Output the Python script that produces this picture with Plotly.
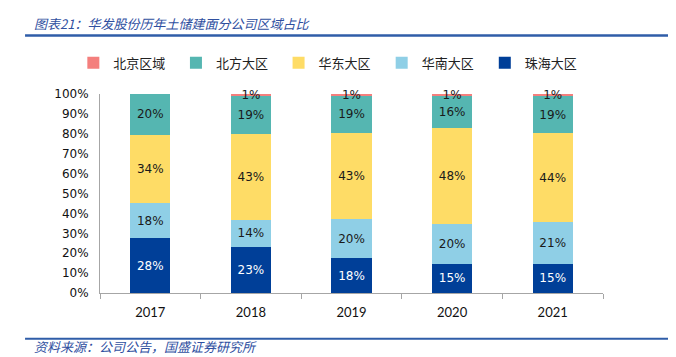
import plotly.graph_objects as go

years = ["2017", "2018", "2019", "2020", "2021"]
beijing = [0.0, 1.0, 1.0, 1.0, 1.0]
beifang = [20.4, 19.0, 18.6, 16.0, 18.8]
huadong = [34.4, 43.3, 43.3, 48.1, 44.4]
huanan = [17.6, 13.5, 19.6, 20.3, 21.2]
zhuhai = [27.6, 23.2, 17.5, 14.6, 14.6]

# (name, values, colour, label colour, legend id, legend x in paper coords)
series = [
    ("珠海大区", zhuhai, "#003F98", "white", "legend5", 0.765),
    ("华南大区", huanan, "#8FCFE6", "#1a1a1a", "legend4", 0.560),
    ("华东大区", huadong, "#FEDC66", "#1a1a1a", "legend3", 0.355),
    ("北方大区", beifang, "#55B6B1", "#1a1a1a", "legend2", 0.151),
    ("北京区域", beijing, "#F47F7D", "#1a1a1a", "legend", -0.053),
]

fig = go.Figure()
legend_layout = {}
for name, vals, color, tcolor, lid, lx in series:
    fig.add_trace(go.Bar(
        x=years, y=vals, name=name, marker_color=color, marker_line_width=0,
        text=[f"{round(v)}%" if v > 0 else "" for v in vals],
        textposition="inside", insidetextanchor="middle",
        textfont=dict(family="DejaVu Sans", size=12, color=tcolor),
        hoverinfo="skip", cliponaxis=False, legend=lid, showlegend=True,
    ))
    legend_layout[lid] = dict(
        orientation="h", x=lx, xanchor="left", y=1.157, yanchor="middle",
        font=dict(family="Noto Sans CJK SC", size=13, color="#222"),
        bgcolor="rgba(0,0,0,0)", itemclick=False, itemdoubleclick=False,
    )

fig.update_layout(
    barmode="stack", bargap=0.6,
    width=676, height=357,
    margin=dict(l=92, r=81, t=86, b=72, autoexpand=False),
    plot_bgcolor="white", paper_bgcolor="white",
    uniformtext=dict(minsize=12, mode="show"),
    showlegend=True,
    xaxis=dict(showline=True, linecolor="#A6A6A6", linewidth=1, automargin=False,
               ticks="outside", tickson="boundaries", ticklen=5, tickcolor="#A6A6A6",
               ticklabelstandoff=7,
               tickfont=dict(family="Lato", size=13, color="#111")),
    yaxis=dict(range=[0, 100], dtick=10, ticksuffix="%", showgrid=False, automargin=False,
               showline=True, linecolor="#A6A6A6", linewidth=1, ticks="",
               ticklabelstandoff=8,
               tickfont=dict(family="DejaVu Sans", size=12, color="#111")),
    shapes=[
        dict(type="line", xref="paper", yref="paper", x0=-0.149, x1=1.133, y0=1.294, y1=1.294,
             line=dict(color="#2F5DA8", width=2.5)),
        dict(type="line", xref="paper", yref="paper", x0=-0.149, x1=1.161, y0=-0.230, y1=-0.230,
             line=dict(color="#2F5DA8", width=2)),
    ],
    annotations=[
        dict(text="图表21：华发股份历年土储建面分公司区域占比", xref="paper", yref="paper",
             x=-0.135, y=1.355, xanchor="left", yanchor="middle", showarrow=False,
             font=dict(family="Noto Sans CJK SC", size=13, color="#2F4F9F", style="italic")),
        dict(text="资料来源：公司公告，国盛证券研究所", xref="paper", yref="paper",
             x=-0.135, y=-0.268, xanchor="left", yanchor="middle", showarrow=False,
             font=dict(family="Noto Sans CJK SC", size=13, color="#2F4F9F", style="italic")),
    ],
    **legend_layout,
)

fig.write_html("out.html")
